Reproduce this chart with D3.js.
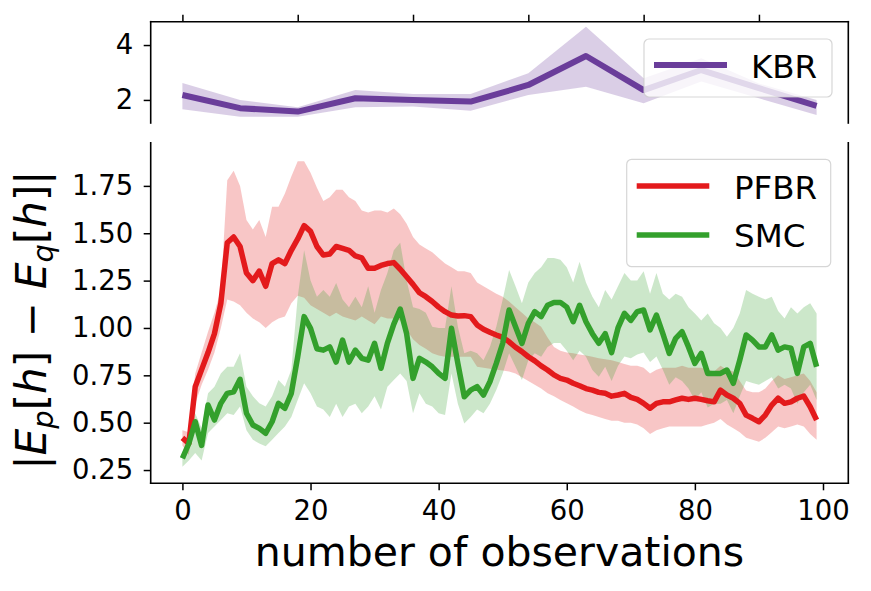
<!DOCTYPE html>
<html><head><meta charset="utf-8">
<script src="https://cdn.jsdelivr.net/npm/d3@7"></script>
<style>
body{margin:0;background:#fff;}
text{font-family:"DejaVu Sans",sans-serif;}
</style></head>
<body><svg id="chart" width="871" height="591"></svg>
<script>
// ---------- data ----------
const obs = d3.range(100);
const pfbrMean = [0.42,0.39,0.69,0.78,0.87,0.97,1.13,1.45,1.48,1.43,1.29,1.25,1.30,1.22,1.34,1.36,1.34,1.41,1.47,1.54,1.51,1.43,1.385,1.39,1.43,1.42,1.41,1.38,1.37,1.315,1.315,1.33,1.34,1.345,1.31,1.27,1.23,1.186,1.165,1.14,1.11,1.086,1.068,1.063,1.065,1.06,1.016,0.993,0.977,0.963,0.95,0.927,0.898,0.875,0.848,0.826,0.80,0.778,0.752,0.734,0.725,0.708,0.695,0.68,0.672,0.66,0.655,0.64,0.646,0.655,0.634,0.623,0.602,0.576,0.602,0.61,0.61,0.62,0.629,0.623,0.629,0.623,0.616,0.61,0.672,0.646,0.629,0.602,0.54,0.523,0.505,0.54,0.593,0.629,0.602,0.61,0.629,0.64,0.584,0.514];
const pfbrUpper = [0.46,0.45,0.76,0.87,0.98,1.08,1.20,1.78,1.83,1.75,1.57,1.52,1.57,1.48,1.64,1.64,1.71,1.80,1.88,1.88,1.82,1.74,1.67,1.69,1.73,1.73,1.69,1.67,1.62,1.61,1.62,1.62,1.61,1.63,1.60,1.55,1.48,1.44,1.42,1.40,1.37,1.34,1.32,1.30,1.30,1.29,1.24,1.22,1.20,1.18,1.165,1.14,1.11,1.08,1.05,1.03,1.007,0.95,0.90,0.88,0.87,0.866,0.86,0.855,0.848,0.84,0.835,0.83,0.82,0.81,0.80,0.80,0.79,0.76,0.78,0.79,0.79,0.79,0.80,0.79,0.79,0.79,0.78,0.77,0.80,0.78,0.77,0.72,0.67,0.66,0.66,0.68,0.72,0.75,0.73,0.74,0.75,0.76,0.72,0.66];
const pfbrLower = [0.38,0.33,0.60,0.70,0.78,0.87,1.00,1.15,1.14,1.12,1.08,1.05,1.03,1.00,1.03,1.05,1.06,1.13,1.17,1.16,1.12,1.10,1.08,1.06,1.08,1.06,1.05,1.04,1.06,1.04,1.02,1.06,1.05,1.05,1.04,0.99,0.94,0.91,0.89,0.866,0.855,0.848,0.848,0.848,0.848,0.848,0.795,0.79,0.785,0.78,0.775,0.77,0.76,0.74,0.72,0.70,0.68,0.655,0.64,0.62,0.602,0.585,0.565,0.55,0.54,0.53,0.52,0.51,0.51,0.50,0.50,0.49,0.47,0.44,0.46,0.47,0.48,0.48,0.48,0.48,0.48,0.48,0.49,0.50,0.52,0.49,0.47,0.45,0.42,0.41,0.40,0.42,0.45,0.48,0.47,0.48,0.49,0.48,0.44,0.41];
const smcMean = [0.312,0.39,0.505,0.38,0.593,0.514,0.602,0.655,0.663,0.729,0.55,0.488,0.47,0.444,0.505,0.602,0.576,0.655,0.848,1.06,0.998,0.89,0.883,0.90,0.82,0.936,0.82,0.883,0.84,0.83,0.919,0.787,0.92,1.02,1.10,0.97,0.734,0.84,0.82,0.795,0.76,0.734,0.998,0.813,0.637,0.672,0.69,0.646,0.716,0.813,0.919,1.095,1.007,0.919,1.025,1.086,1.06,1.12,1.135,1.135,1.11,1.033,1.12,1.033,0.97,0.919,0.97,0.87,1.0,1.077,1.04,1.086,1.095,0.99,1.068,0.97,0.866,0.945,0.98,0.9,0.813,0.866,0.76,0.76,0.76,0.778,0.708,0.83,0.963,0.936,0.9,0.9,0.963,0.883,0.9,0.893,0.76,0.9,0.919,0.795];
const smcUpper = [0.34,0.41,0.55,0.47,0.655,0.69,0.76,0.795,0.795,0.866,0.69,0.64,0.602,0.585,0.64,0.725,0.69,0.78,1.165,1.41,1.25,1.165,1.20,1.165,1.237,1.15,1.11,1.165,1.11,1.22,1.08,1.20,1.29,1.41,1.45,1.25,1.11,1.10,1.08,1.007,1.0,1.0,1.22,1.007,0.866,0.88,0.866,0.83,0.90,1.007,1.15,1.306,1.22,1.13,1.24,1.29,1.32,1.37,1.37,1.36,1.32,1.24,1.35,1.24,1.165,1.11,1.20,1.15,1.22,1.29,1.25,1.25,1.30,1.18,1.29,1.18,1.15,1.18,1.165,1.11,1.077,1.04,1.077,1.025,1.0,0.954,1.0,1.077,1.20,1.18,1.165,1.15,1.165,1.09,1.05,1.11,1.077,1.11,1.13,1.077];
const smcLower = [0.267,0.30,0.34,0.30,0.445,0.48,0.514,0.55,0.54,0.585,0.46,0.41,0.39,0.375,0.41,0.445,0.48,0.53,0.62,0.708,0.655,0.585,0.57,0.53,0.60,0.53,0.585,0.60,0.55,0.585,0.64,0.57,0.69,0.725,0.76,0.72,0.55,0.655,0.60,0.585,0.55,0.54,0.76,0.60,0.496,0.53,0.57,0.55,0.60,0.672,0.76,0.866,0.795,0.725,0.83,0.866,0.848,0.90,0.92,0.92,0.88,0.83,0.88,0.848,0.778,0.742,0.795,0.72,0.80,0.85,0.84,0.86,0.87,0.82,0.85,0.78,0.70,0.74,0.72,0.68,0.62,0.66,0.58,0.60,0.60,0.62,0.55,0.64,0.72,0.71,0.70,0.72,0.74,0.68,0.70,0.68,0.60,0.66,0.70,0.62];
const kbrObs = [0,9,18,27,36,45,54,63,72,81,90,99];
const kbrMean = [2.18,1.70,1.575,2.06,2.0,1.94,2.545,3.6,2.36,3.09,2.43,1.78];
const kbrUpper = [2.62,2.0,1.73,2.36,2.22,2.22,2.97,4.67,2.79,3.52,2.6,2.0];
const kbrLower = [1.66,1.39,1.39,1.73,1.76,1.61,2.18,2.48,1.88,2.67,2.06,1.45];
const xTicks = [0,20,40,60,80,100];
const xTicksTop = [0,18,36,54,72,90];
const yTicksBottom = [0.25,0.50,0.75,1.00,1.25,1.50,1.75];
const yTicksTop = [2,4];
const seriesNames = ["PFBR","SMC"];
const topName = "KBR";

// ---------- layout ----------
const C = {red:"#e31a1c", green:"#33a02c", purple:"#6a3d9a"};
const L = 150.7, R = 848.3;
const topT = 21.7, topB = 123;
const botT = 142.7, botB = 483.3;
const svg = d3.select("#chart");

const x = d3.scaleLinear().domain([-4.95, 103.95]).range([L, R]);
const yTop = d3.scaleLinear().domain([1.16, 4.85]).range([topB, topT]);
const yBot = d3.scaleLinear().domain([0.18, 1.978]).range([botB, botT]);

function band(xs, lo, hi, ys){
  return d3.area().x((d,i)=>x(xs[i])).y0((d,i)=>ys(lo[i])).y1((d,i)=>ys(hi[i]))(xs);
}
function line(xs, v, ys){
  return d3.line().x((d,i)=>x(xs[i])).y((d,i)=>ys(v[i]))(xs);
}

// ---------- top panel ----------
svg.append("path").attr("d", band(kbrObs, kbrLower, kbrUpper, yTop)).attr("fill", C.purple).attr("fill-opacity", 0.25);
svg.append("path").attr("d", line(kbrObs, kbrMean, yTop)).attr("fill","none").attr("stroke", C.purple).attr("stroke-width", 6).attr("stroke-linejoin","round");

// ---------- bottom panel ----------
svg.append("path").attr("d", band(obs, pfbrLower, pfbrUpper, yBot)).attr("fill", C.red).attr("fill-opacity", 0.25);
svg.append("path").attr("d", band(obs, smcLower, smcUpper, yBot)).attr("fill", C.green).attr("fill-opacity", 0.25);
svg.append("path").attr("d", line(obs, pfbrMean, yBot)).attr("fill","none").attr("stroke", C.red).attr("stroke-width", 5.5).attr("stroke-linejoin","round");
svg.append("path").attr("d", line(obs, smcMean, yBot)).attr("fill","none").attr("stroke", C.green).attr("stroke-width", 5.5).attr("stroke-linejoin","round");

// ---------- axes ----------
function styleAxis(g){
  g.select(".domain").remove();
  g.selectAll(".tick line").attr("stroke","#000").attr("stroke-width",1.5);
  g.selectAll(".tick text").attr("font-size","27.5px").attr("fill","#000").attr("font-family","DejaVu Sans");
}
svg.append("g").attr("transform",`translate(${L},0)`)
  .call(d3.axisLeft(yBot).tickValues(yTicksBottom).tickFormat(d3.format(".2f")).tickSize(7).tickPadding(10.5))
  .call(styleAxis);
svg.append("g").attr("transform",`translate(${L},0)`)
  .call(d3.axisLeft(yTop).tickValues(yTicksTop).tickFormat(d3.format("d")).tickSize(7).tickPadding(10.5))
  .call(styleAxis);
svg.append("g").attr("transform",`translate(0,${botB})`)
  .call(d3.axisBottom(x).tickValues(xTicks).tickFormat(d3.format("d")).tickSize(7).tickPadding(10.5))
  .call(styleAxis);
svg.append("g").attr("transform",`translate(0,${topT})`)
  .call(d3.axisTop(x).tickValues(xTicksTop).tickFormat("").tickSize(7))
  .call(styleAxis);

// spines
const sp = svg.append("g").attr("stroke","#000").attr("stroke-width",1.6).attr("stroke-linecap","square");
sp.append("line").attr("x1",L).attr("x2",R).attr("y1",topT).attr("y2",topT);
sp.append("line").attr("x1",L).attr("x2",L).attr("y1",topT).attr("y2",topB);
sp.append("line").attr("x1",R).attr("x2",R).attr("y1",topT).attr("y2",topB);
sp.append("line").attr("x1",L).attr("x2",R).attr("y1",botB).attr("y2",botB);
sp.append("line").attr("x1",L).attr("x2",L).attr("y1",botT).attr("y2",botB);
sp.append("line").attr("x1",R).attr("x2",R).attr("y1",botT).attr("y2",botB);

// ---------- legends ----------
function legendBox(x0,y0,w,h){
  svg.append("rect").attr("x",x0).attr("y",y0).attr("width",w).attr("height",h).attr("rx",5)
    .attr("fill","#fff").attr("fill-opacity",0.8).attr("stroke","#ccc").attr("stroke-opacity",0.8).attr("stroke-width",1.2);
}
legendBox(644, 39, 188, 58);
svg.append("line").attr("x1",654).attr("x2",727).attr("y1",65).attr("y2",65).attr("stroke",C.purple).attr("stroke-width",6);
svg.append("text").attr("x",751).attr("y",77.5).attr("font-size","32.5px").text(topName);

legendBox(626.7, 159.3, 204, 107.4);
const legColors = [C.red, C.green];
const legLineY = [186, 235];
const legTextY = [199.3, 247.3];
seriesNames.forEach((n,i)=>{
  svg.append("line").attr("x1",636.7).attr("x2",709.3).attr("y1",legLineY[i]).attr("y2",legLineY[i]).attr("stroke",legColors[i]).attr("stroke-width",5.5);
  svg.append("text").attr("x",734).attr("y",legTextY[i]).attr("font-size","32.5px").text(n);
});

// ---------- axis labels ----------
svg.append("text").attr("x",(L+R)/2).attr("y",566).attr("text-anchor","middle").attr("font-size","41px").text("number of observations");

const yl = svg.append("text").attr("transform","translate(46,320) rotate(-90)").attr("text-anchor","middle").attr("font-size","42px");
yl.append("tspan").text("|");
yl.append("tspan").attr("font-style","italic").text("E");
yl.append("tspan").attr("font-style","italic").attr("font-size","29px").attr("dy",7).text("p");
yl.append("tspan").attr("dy",-7).text("[");
yl.append("tspan").attr("font-style","italic").text("h");
yl.append("tspan").text("] − ");
yl.append("tspan").attr("font-style","italic").text("E");
yl.append("tspan").attr("font-style","italic").attr("font-size","29px").attr("dy",7).text("q");
yl.append("tspan").attr("dy",-7).text("[");
yl.append("tspan").attr("font-style","italic").text("h");
yl.append("tspan").text("]|");
</script></body></html>
